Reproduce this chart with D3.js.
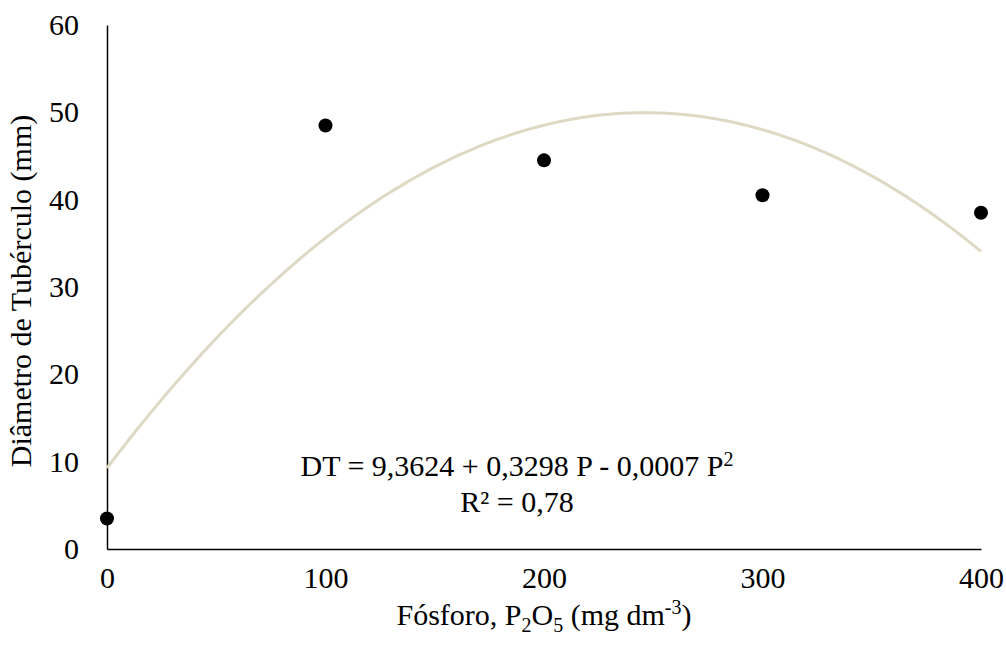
<!DOCTYPE html>
<html>
<head>
<meta charset="utf-8">
<script src="https://cdn.jsdelivr.net/npm/d3@7"></script>
<style>
  body { margin: 0; background: #fff; }
  svg { display: block; font-family: "Liberation Serif", "Times New Roman", serif; }
</style>
</head>
<body>
<svg id="chart" width="1006" height="655"></svg>
<script>
// data
const doses = [0, 100, 200, 300, 400]
const diametro = [3.5, 48.5, 44.5, 40.5, 38.5]
const xTicks = [0, 100, 200, 300, 400]
const yTicks = [0, 10, 20, 30, 40, 50, 60]

const svg = d3.select('#chart')
const x = d3.scaleLinear().domain([0, 400]).range([107, 981])
const y = d3.scaleLinear().domain([0, 60]).range([549, 25])

/**
 * Least squares quadratic fit (what the trendline shows).
 */
function quadFit (xs, ys) {
  const s = [0, 0, 0, 0, 0]
  const t = [0, 0, 0]
  xs.forEach((xi, i) => {
    for (let k = 0; k < 5; k++) s[k] += Math.pow(xi, k)
    for (let k = 0; k < 3; k++) t[k] += Math.pow(xi, k) * ys[i]
  })
  const m = [[s[0], s[1], s[2], t[0]], [s[1], s[2], s[3], t[1]], [s[2], s[3], s[4], t[2]]]
  for (let i = 0; i < 3; i++) {
    for (let j = i + 1; j < 3; j++) {
      const f = m[j][i] / m[i][i]
      for (let k = i; k < 4; k++) m[j][k] -= f * m[i][k]
    }
  }
  const c = [0, 0, 0]
  for (let i = 2; i >= 0; i--) {
    let v = m[i][3]
    for (let k = i + 1; k < 3; k++) v -= m[i][k] * c[k]
    c[i] = v / m[i][i]
  }
  return c
}

const coef = quadFit(doses, diametro)
const trend = d3.range(0, 400.1, 2).map(p => [p, coef[0] + coef[1] * p + coef[2] * p * p])

// axes
const yAxis = svg.append('g').attr('class', 'yaxis')
  .attr('transform', 'translate(' + x(0) + ',0)')
  .call(d3.axisLeft(y).tickValues(yTicks).tickSize(0).tickPadding(28))
const xAxis = svg.append('g').attr('class', 'xaxis')
  .attr('transform', 'translate(0,' + y(0) + ')')
  .call(d3.axisBottom(x).tickValues(xTicks).tickSize(0).tickPadding(18))

for (const g of [xAxis, yAxis]) {
  g.select('.domain').attr('stroke', '#000').attr('stroke-width', 1.5)
  g.selectAll('.tick text')
    .attr('font-family', '"Liberation Serif", serif')
    .attr('font-size', 30)
    .attr('fill', '#000')
}

// trendline
svg.append('path')
  .datum(trend)
  .attr('fill', 'none')
  .attr('stroke', '#ddd9c4')
  .attr('stroke-width', 3)
  .attr('d', d3.line().x(d => x(d[0])).y(d => y(d[1])))

// points
svg.append('g').selectAll('circle')
  .data(doses.map((d, i) => [d, diametro[i]]))
  .join('circle')
  .attr('cx', d => x(d[0]))
  .attr('cy', d => y(d[1]))
  .attr('r', 7)
  .attr('fill', '#000')

// equation
const eq = svg.append('text')
  .attr('x', 517).attr('y', 476)
  .attr('text-anchor', 'middle')
  .attr('font-size', 30)
eq.append('tspan').text('DT = 9,3624 + 0,3298 P - 0,0007 P')
eq.append('tspan').attr('dy', -10).attr('font-size', 20).text('2')
svg.append('text')
  .attr('x', 517).attr('y', 512)
  .attr('text-anchor', 'middle')
  .attr('font-size', 30)
  .text('R² = 0,78')

// axis titles
const xt = svg.append('text')
  .attr('x', 544).attr('y', 625)
  .attr('text-anchor', 'middle')
  .attr('font-size', 30)
xt.append('tspan').text('Fósforo, P')
xt.append('tspan').attr('dy', 7).attr('font-size', 20).text('2')
xt.append('tspan').attr('dy', -7).text('O')
xt.append('tspan').attr('dy', 7).attr('font-size', 20).text('5')
xt.append('tspan').attr('dy', -7).text(' (mg dm')
xt.append('tspan').attr('dy', -11).attr('font-size', 20).text('-3')
xt.append('tspan').attr('dy', 11).text(')')

svg.append('text')
  .attr('transform', 'translate(31,291) rotate(-90)')
  .attr('text-anchor', 'middle')
  .attr('font-size', 30)
  .text('Diâmetro de Tubérculo (mm)')
</script>
</body>
</html>
